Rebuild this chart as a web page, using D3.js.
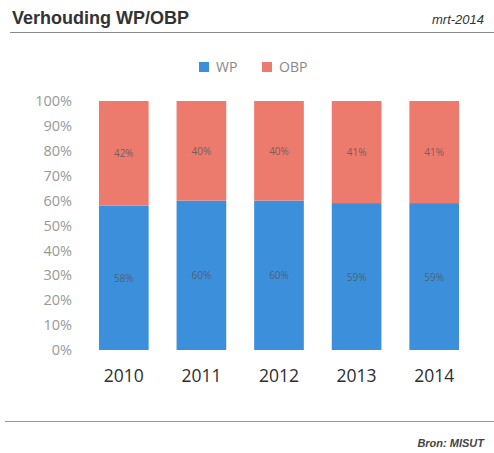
<!DOCTYPE html>
<html>
<head>
<meta charset="utf-8">
<script src="https://cdn.jsdelivr.net/npm/d3@7"></script>
<style>
  body { margin: 0; background: #fff; }
  svg { display: block; }
</style>
</head>
<body>
<svg id="chart" width="494" height="453"></svg>
<script>
// chart data
var years = ["2010", "2011", "2012", "2013", "2014"];
var wpValues = [58, 60, 60, 59, 59];
var obpValues = [42, 40, 40, 41, 41];
var seriesNames = ["WP", "OBP"];
var yTicks = [0, 10, 20, 30, 40, 50, 60, 70, 80, 90, 100];

// styles
var BLUE_COLOR = "#3b8fdb";
var RED_COLOR = "#ec7b6d";

(function(){
    var svg = d3.select("#chart");
    var WIDTH = 494, HEIGHT = 453;

    var margin = { left: 85, right: 21, top: 101, bottom: 103 };

    var x = d3.scaleBand()
        .domain(years)
        .range([margin.left, WIDTH - margin.right])
        .paddingInner(0.36)
        .paddingOuter(0.18);

    var y = d3.scaleLinear()
        .domain([0, 100])
        .range([HEIGHT - margin.bottom, margin.top]);

    // header
    svg.append("text")
        .attr("x", 12).attr("y", 24)
        .attr("font-family", "Liberation Sans, Arial, sans-serif")
        .attr("font-weight", "bold")
        .attr("font-size", 18)
        .attr("fill", "#333")
        .text("Verhouding WP/OBP");

    svg.append("text")
        .attr("x", 484).attr("y", 24)
        .attr("text-anchor", "end")
        .attr("font-family", "Liberation Sans, Arial, sans-serif")
        .attr("font-style", "italic")
        .attr("font-size", 13)
        .attr("fill", "#333")
        .text("mrt-2014");

    svg.append("line")
        .attr("x1", 10).attr("x2", 494)
        .attr("y1", 32.5).attr("y2", 32.5)
        .attr("stroke", "#888").attr("stroke-width", 1.2);

    // legend
    var legendColors = [BLUE_COLOR, RED_COLOR];
    var legendX = [199, 262];
    seriesNames.forEach(function(name, i) {
        svg.append("rect")
            .attr("x", legendX[i]).attr("y", 62)
            .attr("width", 10).attr("height", 10)
            .attr("fill", legendColors[i]);
        svg.append("text")
            .attr("x", legendX[i] + 17).attr("y", 72)
            .attr("font-family", "Open Sans, sans-serif")
            .attr("font-size", 14)
            .attr("fill", "#888")
            .text(name);
    });

    // y axis labels
    var yAxis = d3.axisLeft(y)
        .tickValues(yTicks)
        .tickFormat(function(d) { return d + "%"; })
        .tickSize(0)
        .tickPadding(0);

    var yg = svg.append("g")
        .attr("transform", "translate(72,0)")
        .call(yAxis);
    yg.select(".domain").remove();
    yg.selectAll("text")
        .attr("font-family", "Open Sans, sans-serif")
        .attr("font-size", 14.5)
        .attr("fill", "#999");

    // stacked bars
    var rows = years.map(function(yr, i) {
        return { year: yr, WP: wpValues[i], OBP: obpValues[i] };
    });
    var stack = d3.stack().keys(seriesNames);
    var layers = stack(rows);
    var color = d3.scaleOrdinal().domain(seriesNames).range(legendColors);

    var groups = svg.selectAll("g.layer")
        .data(layers)
        .enter()
        .append("g")
        .attr("class", "layer")
        .attr("fill", function(d) { return color(d.key); });

    groups.selectAll("rect")
        .data(function(d) { return d; })
        .enter()
        .append("rect")
        .attr("x", function(d) { return x(d.data.year); })
        .attr("y", function(d) { return y(d[1]); })
        .attr("width", x.bandwidth())
        .attr("height", function(d) { return y(d[0]) - y(d[1]); });

    // value labels inside bars
    groups.selectAll("text")
        .data(function(d) { return d; })
        .enter()
        .append("text")
        .attr("x", function(d) { return x(d.data.year) + x.bandwidth() / 2; })
        .attr("y", function(d) { return (y(d[0]) + y(d[1])) / 2 + 4; })
        .attr("text-anchor", "middle")
        .attr("font-family", "Open Sans, sans-serif")
        .attr("font-size", 10)
        .attr("fill", "#555")
        .attr("fill-opacity", 0.8)
        .text(function(d) { return (d[1] - d[0]) + "%"; });

    // x axis labels
    var xAxis = d3.axisBottom(x).tickSize(0).tickPadding(0);
    var xg = svg.append("g")
        .attr("transform", "translate(0,370)")
        .call(xAxis);
    xg.select(".domain").remove();
    xg.selectAll("text")
        .attr("font-family", "Open Sans, sans-serif")
        .attr("font-size", 17.5)
        .attr("fill", "#2e2e2e");

    // footer
    svg.append("line")
        .attr("x1", 5).attr("x2", 494)
        .attr("y1", 421.5).attr("y2", 421.5)
        .attr("stroke", "#999").attr("stroke-width", 1);

    svg.append("text")
        .attr("x", 484).attr("y", 447)
        .attr("text-anchor", "end")
        .attr("font-family", "Liberation Sans, Arial, sans-serif")
        .attr("font-style", "italic")
        .attr("font-weight", "bold")
        .attr("font-size", 11)
        .attr("fill", "#444")
        .text("Bron: MISUT");
})();
</script>
</body>
</html>
